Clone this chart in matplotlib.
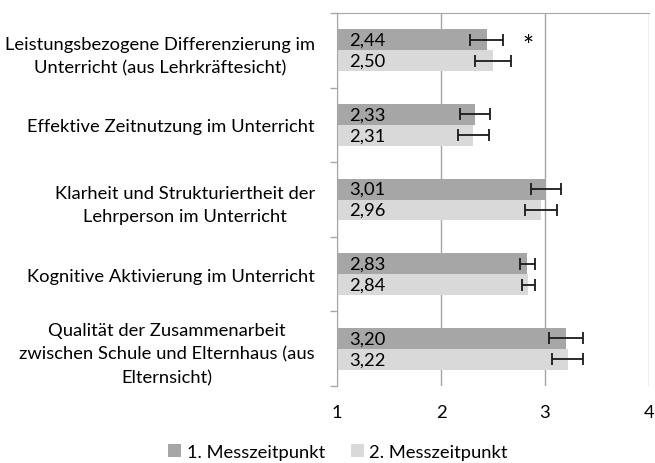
import matplotlib
matplotlib.use("Agg")
import matplotlib.pyplot as plt
import numpy as np

plt.rcParams['font.family'] = ['Lato', 'DejaVu Sans']

# Daten
kategorien = [
    "Leistungsbezogene Differenzierung im\nUnterricht (aus Lehrkräftesicht)",
    "Effektive Zeitnutzung im Unterricht",
    "Klarheit und Strukturiertheit der\nLehrperson im Unterricht",
    "Kognitive Aktivierung im Unterricht",
    "Qualität der Zusammenarbeit\nzwischen Schule und Elternhaus (aus\nElternsicht)",
]
werte_t1 = [2.44, 2.33, 3.01, 2.83, 3.20]
werte_t2 = [2.50, 2.31, 2.96, 2.84, 3.22]
fehler_t1 = [0.16, 0.145, 0.145, 0.075, 0.165]
fehler_t2 = [0.17, 0.15, 0.155, 0.065, 0.15]
signifikant = ["*", "", "", "", ""]
serien = ["1. Messzeitpunkt", "2. Messzeitpunkt"]
x_ticks = [1, 2, 3, 4]

farbe_t1 = '#a6a6a6'
farbe_t2 = '#d9d9d9'
grau = '#a6a6a6'
fs = 13.2

fig = plt.figure(figsize=(6.55, 4.64), dpi=100)
ax = fig.add_axes([337/655, 1 - 387/464, 312/655, 373/464])

y = np.arange(len(kategorien))
h = 0.28
basis = 1

ax.barh(y - h/2, np.array(werte_t1) - basis, left=basis, height=h,
        color=farbe_t1, label=serien[0], zorder=2)
ax.barh(y + h/2, np.array(werte_t2) - basis, left=basis, height=h,
        color=farbe_t2, label=serien[1], zorder=2)

fehler_stil = dict(fmt='none', ecolor='#1a1a1a', elinewidth=1.3, capsize=4, capthick=1.3, zorder=3)
ax.errorbar(werte_t1, y - h/2, xerr=fehler_t1, **fehler_stil)
ax.errorbar(werte_t2, y + h/2, xerr=fehler_t2, **fehler_stil)

for i in range(len(kategorien)):
    ax.annotate(f"{werte_t1[i]:.2f}".replace('.', ','), (basis, y[i] - h/2),
                xytext=(9, 0), textcoords='offset points', ha='left', va='center',
                fontsize=fs, zorder=4)
    ax.annotate(f"{werte_t2[i]:.2f}".replace('.', ','), (basis, y[i] + h/2),
                xytext=(9, 0), textcoords='offset points', ha='left', va='center',
                fontsize=fs, zorder=4)
    if signifikant[i]:
        ax.annotate(signifikant[i], (werte_t1[i] + fehler_t1[i], y[i] - h/2),
                    xytext=(18, -5), textcoords='offset points', ha='center',
                    va='center', fontsize=19)

ax.set_xlim(1, 4)
ax.set_ylim(len(kategorien) - 0.5, -0.5)
ax.set_xticks(x_ticks)
ax.set_xticklabels([str(t) for t in x_ticks], fontsize=fs)
ax.tick_params(axis='x', length=0, pad=13)

ax.set_yticks(y)
ax.set_yticklabels(kategorien, fontsize=fs, multialignment='center', linespacing=1.55)
ax.set_yticks(np.arange(len(kategorien) + 1) - 0.5, minor=True)
ax.tick_params(axis='y', which='major', length=0, pad=16)
ax.tick_params(axis='y', which='minor', length=5, color=grau, width=1)

ax.grid(axis='x', color=grau, linewidth=1, zorder=0)
for s in ['right', 'bottom']:
    ax.spines[s].set_visible(False)
ax.spines['left'].set_color(grau)
ax.spines['top'].set_color(grau)
ax.spines['left'].set_zorder(5)

fig.legend(loc='center', bbox_to_anchor=(0.516, 1 - 453/464), ncol=2, frameon=False,
           fontsize=fs, handlelength=0.7, handleheight=0.7, handletextpad=0.3,
           columnspacing=1.4)

fig.savefig("out.png", dpi=100)
